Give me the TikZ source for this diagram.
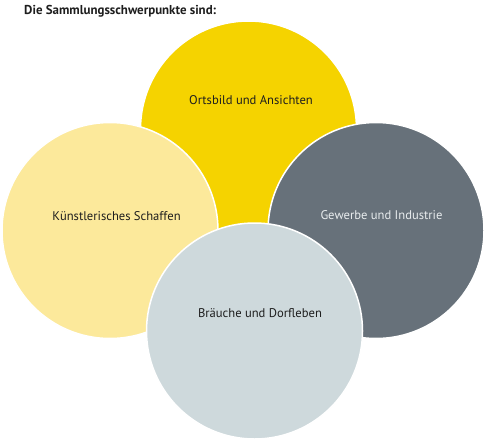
\documentclass[tikz,border=0pt]{standalone}
\usepackage{fontspec}
\setmainfont{PT Sans}
\definecolor{cyellow}{HTML}{F5D300}
\definecolor{clight}{HTML}{FCE99B}
\definecolor{cgray}{HTML}{67717A}
\definecolor{cblue}{HTML}{CED9DC}
\definecolor{ctext}{HTML}{1E1E1E}
\definecolor{cwtext}{HTML}{E8ECEE}
\begin{document}
\begin{tikzpicture}[x=1pt,y=-1pt,
  bubble/.style={circle,draw=white,line width=1.5pt,minimum size=216pt,inner sep=0pt},
  lbl/.style={font=\fontsize{12.6}{14}\selectfont,text=ctext,inner sep=0pt}]
\useasboundingbox[fill=white] (0,0) rectangle (486,441);
\node[anchor=west,inner sep=0pt,font=\bfseries\fontsize{12.9}{15}\selectfont,text=ctext] (title) at (24,11) {Die Sammlungsschwerpunkte sind:};
\node[bubble,fill=cyellow] (c1) at (248.5,129) {};
\node[bubble,fill=clight] (c2) at (110,230.5) {};
\node[bubble,fill=cgray] (c3) at (376,230.5) {};
\node[bubble,fill=cblue] (c4) at (254.5,331) {};
\node[lbl] (t1) at (251,100) {Ortsbild und Ansichten};
\node[lbl] (t2) at (116.5,216) {Künstlerisches Schaffen};
\node[lbl,text=cwtext] (t3) at (381.5,215) {Gewerbe und Industrie};
\node[lbl] (t4) at (260,313) {Bräuche und Dorfleben};
\end{tikzpicture}
\end{document}
